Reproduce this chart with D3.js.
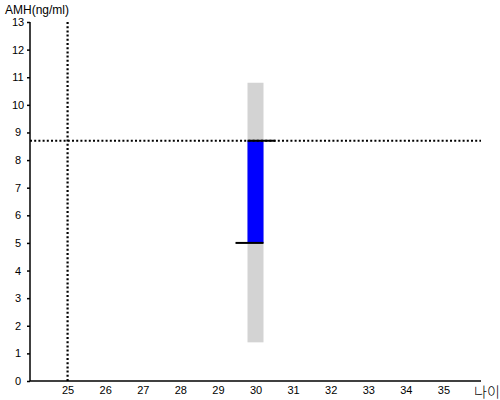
<!DOCTYPE html>
<html>
<head>
<meta charset="utf-8">
<script src="https://cdn.jsdelivr.net/npm/d3@7"></script>
<style>
  body { margin: 0; background: #fff; }
  text { font-family: "Liberation Sans", Arial, sans-serif; }
</style>
</head>
<body>
<svg id="chart" width="500" height="400"></svg>
<script>
// chart values
const xTicks = [25, 26, 27, 28, 29, 30, 31, 32, 33, 34, 35];
const yTicks = [0, 1, 2, 3, 4, 5, 6, 7, 8, 9, 10, 11, 12, 13];
const ageRange = [{ age: 30, low: 1.4, high: 10.8 }]; // gray normal range
const amhBar = [{ age: 30, from: 5.0, to: 8.7 }]; // blue bar
const refAge = 25;
const refAmh = 8.7;

const svg = d3.select('#chart');
const x = d3.scaleLinear().domain([24, 36]).range([30, 481]);
const y = d3.scaleLinear().domain([0, 13]).range([381, 22]);
const barW = 16;

// gray range
svg.selectAll('rect.range')
  .data(ageRange)
  .join('rect')
  .attr('x', (d) => x(d.age) - barW / 2)
  .attr('y', (d) => y(d.high))
  .attr('width', barW)
  .attr('height', (d) => y(d.low) - y(d.high))
  .attr('fill', '#d3d3d3');

// blue bar
svg.selectAll('rect.amh')
  .data(amhBar)
  .join('rect')
  .attr('x', (d) => x(d.age) - barW / 2)
  .attr('y', (d) => y(d.to))
  .attr('width', barW)
  .attr('height', (d) => y(d.from) - y(d.to))
  .attr('fill', '#0000ff');

// dotted reference lines
svg.append('line')
  .attr('x1', x(refAge)).attr('x2', x(refAge))
  .attr('y1', y(13)).attr('y2', y(0))
  .attr('stroke', '#000').attr('stroke-width', 2.2)
  .attr('stroke-dasharray', '2,2.2');
svg.append('line')
  .attr('x1', x.range()[0]).attr('x2', x.range()[1])
  .attr('y1', y(refAmh)).attr('y2', y(refAmh))
  .attr('stroke', '#000').attr('stroke-width', 2.2)
  .attr('stroke-dasharray', '2,2.2');

// black caps on the bar ends
amhBar.forEach((d) => {
  const cx = x(d.age);
  svg.append('line')
    .attr('x1', cx - barW / 2).attr('x2', cx + 20)
    .attr('y1', y(d.to)).attr('y2', y(d.to))
    .attr('stroke', '#000').attr('stroke-width', 2);
  svg.append('line')
    .attr('x1', cx - 20).attr('x2', cx + barW / 2)
    .attr('y1', y(d.from)).attr('y2', y(d.from))
    .attr('stroke', '#000').attr('stroke-width', 2);
});

// axes
const xAxis = svg.append('g')
  .attr('transform', `translate(0,${y(0)})`)
  .call(d3.axisBottom(x).tickValues(xTicks).tickSize(0).tickPadding(5));
xAxis.select('.domain').attr('d', `M${x.range()[0]},0H${x.range()[1]}`).attr('stroke-width', 1.5);
xAxis.selectAll('text').attr('font-size', 11).attr('font-family', 'Liberation Sans, Arial, sans-serif');

const yAxis = svg.append('g')
  .attr('transform', `translate(${x.range()[0]},0)`)
  .call(d3.axisLeft(y).tickValues(yTicks).tickSize(3).tickSizeOuter(0));
yAxis.select('.domain').attr('d', `M0,${y(13)}V${y(0)}`).attr('stroke-width', 1.5);
yAxis.selectAll('text')
  .attr('font-size', 11)
  .attr('font-family', 'Liberation Sans, Arial, sans-serif')
  .attr('text-anchor', 'middle')
  .attr('x', -12);
yAxis.selectAll('line').attr('stroke-width', 1.5);

// axis titles
svg.append('text')
  .attr('x', 5).attr('y', 14)
  .attr('font-size', 12)
  .text('AMH(ng/ml)');
svg.append('text')
  .attr('x', 474).attr('y', 397)
  .attr('font-size', 14)
  .style('font-family', '"Noto Sans CJK KR", sans-serif')
  .style('font-weight', 300)
  .text('나이');
</script>
</body>
</html>
